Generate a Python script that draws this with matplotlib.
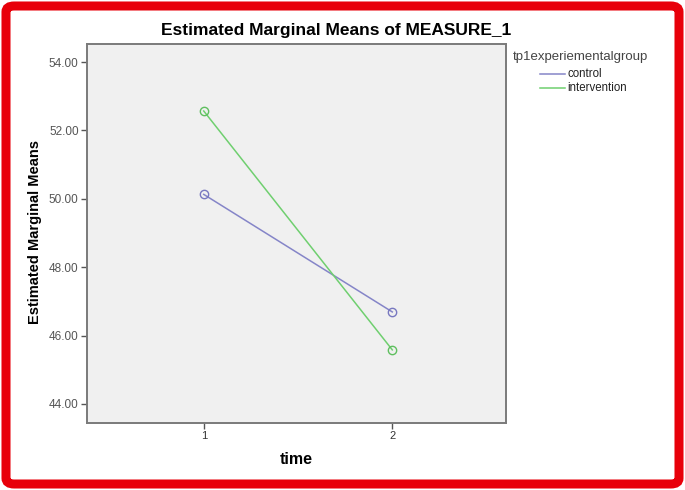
import matplotlib
matplotlib.use("Agg")
import matplotlib.pyplot as plt
from matplotlib.patches import FancyBboxPatch
from matplotlib.lines import Line2D

# data
time = [1, 2]
control = [50.13, 46.69]
intervention = [52.57, 45.58]
group_names = ["control", "intervention"]
y_ticks = [44, 46, 48, 50, 52, 54]

plt.rcParams['font.family'] = ['Liberation Sans', 'DejaVu Sans']

fig = plt.figure(figsize=(6.85, 4.9), dpi=100)
W, H = 685, 490
# axes box in pixels: left 87, right 506, top 44, bottom 423
ax = fig.add_axes([87 / W, 1 - 423 / H, (506 - 87) / W, (423 - 44) / H])
ax.set_facecolor('#f0f0f0')

ax.plot(time, control, color='#8585c8', lw=1.1, marker='o', ms=6,
        mfc='none', mec='#7878c0', mew=1.0)
ax.plot(time, intervention, color='#6fcf6f', lw=1.1, marker='o', ms=6,
        mfc='none', mec='#5fbf5f', mew=1.0)

ax.set_xlim(0.381, 2.603)
ax.set_ylim(43.44, 54.53)
ax.set_xticks(time)
ax.set_xticklabels([str(t) for t in time], fontsize=8, color='#333333')
ax.set_yticks(y_ticks)
ax.set_yticklabels([f"{v:.2f}" for v in y_ticks], fontsize=8.5, color='#555555')
ax.tick_params(direction='out', length=4, width=1, color='#555555', pad=2)

for s in ax.spines.values():
    s.set_color('#7a7a7a')
    s.set_linewidth(1.4)

ax.set_xlabel('time', fontsize=11.5, fontweight='bold', labelpad=8)
fig.text(35 / W, 1 - 232 / H, 'Estimated Marginal Means', rotation=90,
         fontsize=10.5, fontweight='bold', ha='center', va='center')
fig.text(336 / W, 1 - 30 / H, 'Estimated Marginal Means of MEASURE_1',
         fontsize=12.5, fontweight='bold', ha='center', va='center')

# legend
fig.text(513 / W, 1 - 57 / H, 'tp1experiementalgroup', fontsize=9.5,
         color='#444444', ha='left', va='center')
for i, (name, c) in enumerate(zip(group_names, ['#8585c8', '#6fcf6f'])):
    yy = 1 - (74 + 14 * i) / H
    fig.add_artist(Line2D([540 / W, 565 / W], [yy, yy], color=c, lw=1.1))
    fig.text(567 / W, yy, name, fontsize=8.3, color='#222222',
             ha='left', va='center')

# red frame round the whole picture
frame = FancyBboxPatch((6 / W, 6 / H), 1 - 12 / W, 1 - 12 / H,
                       boxstyle='round,pad=0,rounding_size=0.012',
                       transform=fig.transFigure, fill=False,
                       edgecolor='#e8000a', linewidth=6.5)
fig.add_artist(frame)

fig.savefig('out.png', dpi=100)
